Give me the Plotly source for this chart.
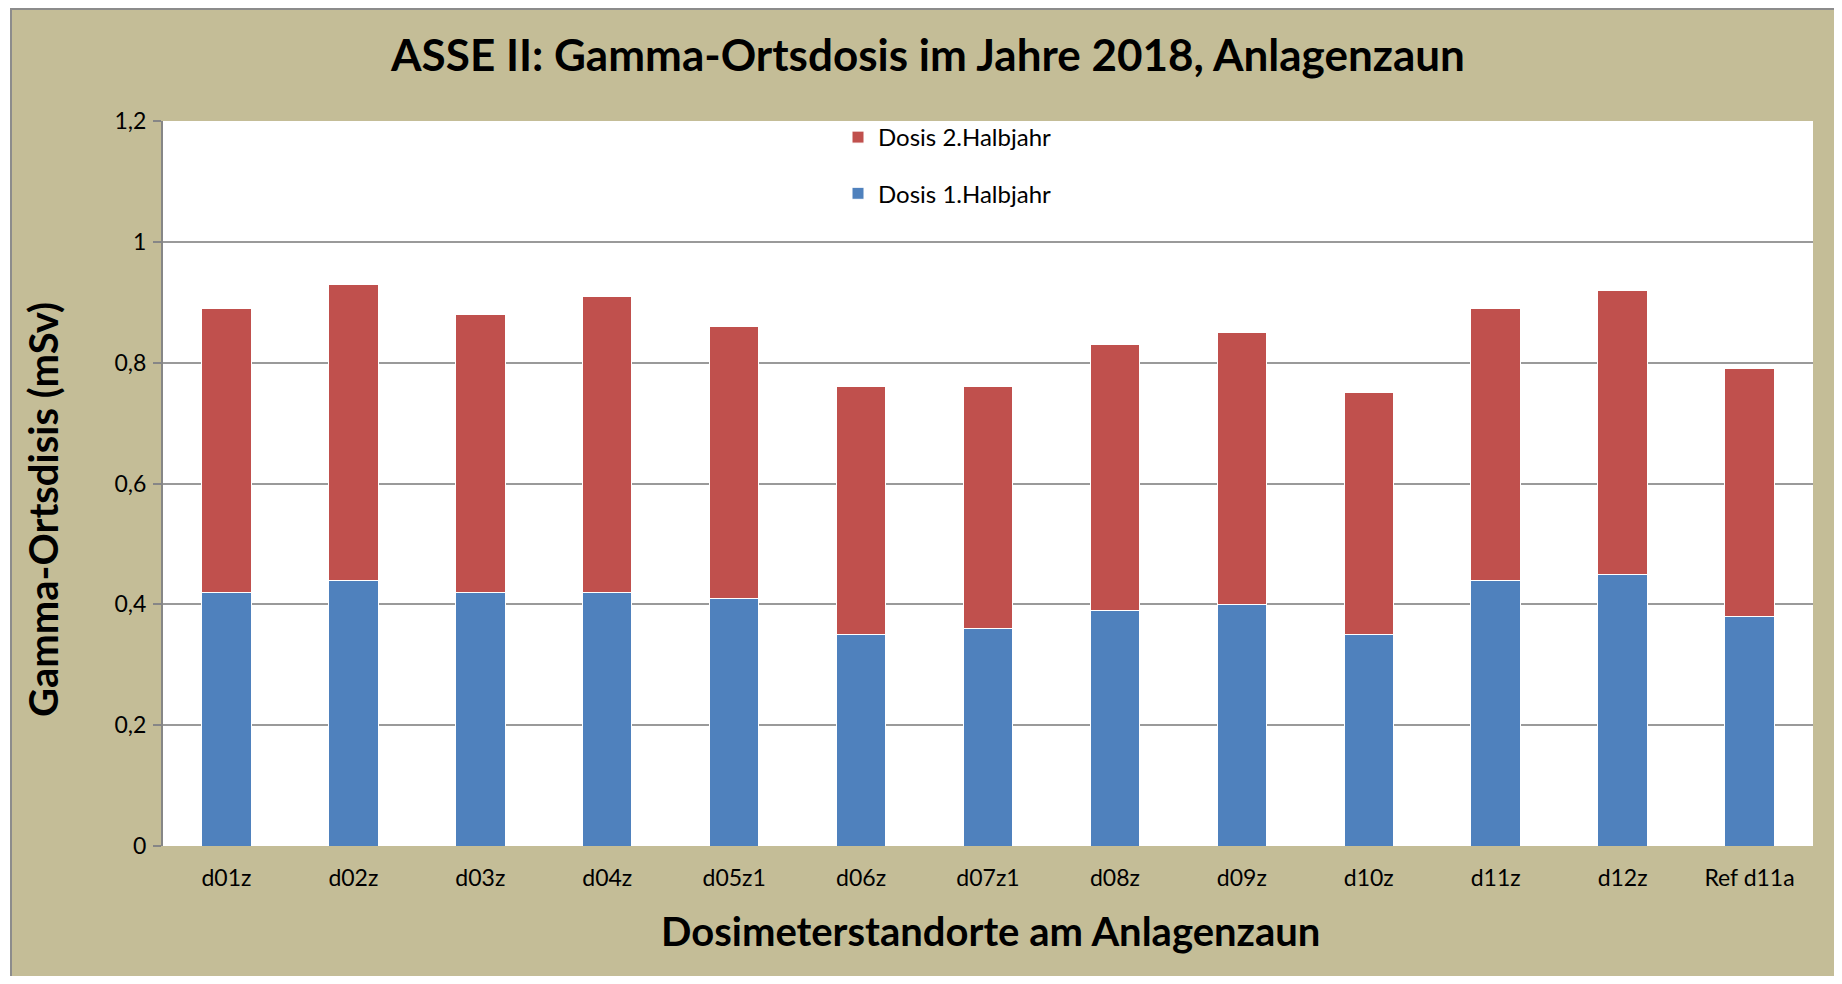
import plotly.graph_objects as go

categories = ["d01z", "d02z", "d03z", "d04z", "d05z1", "d06z", "d07z1", "d08z", "d09z", "d10z", "d11z", "d12z", "Ref d11a"]
dose_h1 = [0.42, 0.44, 0.42, 0.42, 0.41, 0.35, 0.36, 0.39, 0.40, 0.35, 0.44, 0.45, 0.38]
dose_h2 = [0.47, 0.49, 0.46, 0.49, 0.45, 0.41, 0.40, 0.44, 0.45, 0.40, 0.45, 0.47, 0.41]
y_ticks = [0, 0.2, 0.4, 0.6, 0.8, 1.0, 1.2]

FONT = "Lato"
KHAKI = "#C4BD97"
OFF = 8  # page body margin
W, H = 1834, 968
# plot area in screen pixels
SL, SR, ST, SB = 163, 1813, 121, 846
L, T = SL - OFF, ST - OFF
R = W - (SR - OFF)
B = H - (SB - OFF)
pw, ph = W - L - R, H - T - B

def px_x(sx):
    return (sx - OFF - L) / pw

def px_y(sy):
    return 1 - (sy - OFF - T) / ph

fig = go.Figure()
fig.add_trace(go.Bar(
    x=categories, y=dose_h1, name="Dosis 1.Halbjahr",
    marker=dict(color="#4F81BD", line=dict(color="white", width=1)),
    width=0.39, legendgroup="g2", legendrank=2,
))
fig.add_trace(go.Bar(
    x=categories, y=dose_h2, name="Dosis 2.Halbjahr",
    marker=dict(color="#C0504D", line=dict(color="white", width=1)),
    width=0.39, legendgroup="g1", legendrank=1,
))

shapes = [
    dict(type="rect", xref="paper", yref="paper", x0=px_x(0), x1=px_x(11), y0=px_y(1000), y1=px_y(0),
         fillcolor="white", line=dict(width=0), layer="above"),
    dict(type="line", xref="paper", yref="paper", x0=px_x(11), x1=px_x(11), y0=px_y(1000), y1=px_y(8),
         line=dict(color="#8c8c8c", width=2), layer="above"),
    dict(type="line", xref="paper", yref="paper", x0=px_x(11), x1=px_x(1850), y0=px_y(9), y1=px_y(9),
         line=dict(color="#8c8c8c", width=2), layer="above"),
]

annotations = [
    dict(text="<b>Dosimeterstandorte am Anlagenzaun</b>", xref="paper", yref="paper",
         x=px_x(990), y=px_y(931), showarrow=False, xanchor="center", yanchor="middle",
         font=dict(family=FONT, size=40, color="black")),
    dict(text="<b>Gamma-Ortsdisis (mSv)</b>", xref="paper", yref="paper",
         x=px_x(43), y=px_y(510), showarrow=False, xanchor="center", yanchor="middle",
         textangle=-90, font=dict(family=FONT, size=40, color="black")),
]

fig.update_layout(
    width=W, height=H,
    barmode="stack",
    separators=",.",
    paper_bgcolor=KHAKI,
    plot_bgcolor="white",
    margin=dict(l=L, r=R, t=T, b=B, pad=0),
    title=dict(text="<b>ASSE II: Gamma-Ortsdosis im Jahre 2018, Anlagenzaun</b>",
               x=(928 - OFF) / W, xanchor="center",
               y=1 - (56 - OFF) / H, yanchor="middle", yref="container", xref="container",
               font=dict(family=FONT, size=44, color="black")),
    font=dict(family=FONT, size=23, color="black"),
    legend=dict(
        x=px_x(838), y=px_y(115), xanchor="left", yanchor="top",
        orientation="v", traceorder="grouped", tracegroupgap=22,
        bgcolor="rgba(0,0,0,0)", font=dict(family=FONT, size=24, color="black"),
        itemwidth=30,
    ),
    shapes=shapes,
    annotations=annotations,
)

fig.update_yaxes(
    range=[0, 1.2], tickvals=y_ticks, showgrid=True, gridcolor="#9a9a9a", gridwidth=1.5,
    showline=True, linecolor="#868686", linewidth=2, ticks="outside", ticklen=8,
    tickcolor="#868686", tickwidth=2, tickfont=dict(family=FONT, size=23, color="black"),
    zeroline=False, ticklabelstandoff=2,
)
fig.update_xaxes(
    showgrid=False, showline=False, ticks="", tickfont=dict(family=FONT, size=23, color="black"),
    ticklabelstandoff=16,
)

fig.write_html("out.html")
